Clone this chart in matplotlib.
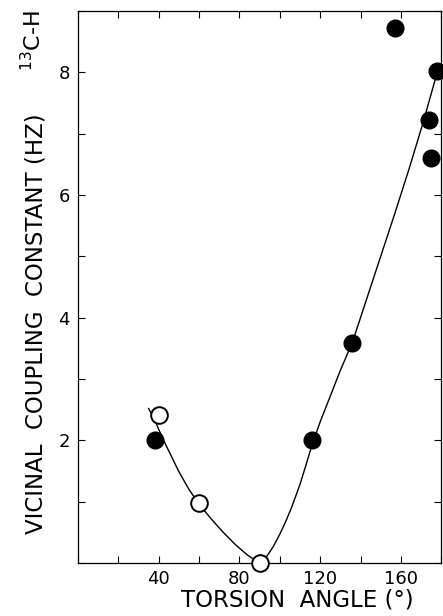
import matplotlib
matplotlib.use("Agg")
import matplotlib.pyplot as plt
from matplotlib.ticker import MultipleLocator

# values
filled_angle = [38, 116, 136, 157, 178, 174, 175]
filled_j = [2.0, 2.0, 3.58, 8.73, 8.03, 7.23, 6.61]

open_angle = [40, 60, 90]
open_j = [2.42, 0.98, 0.0]

# hand-drawn curve, traced point by point
curve_angle = [35, 38, 42, 46, 50, 55, 60, 66, 72, 78, 84, 88, 90, 93, 97, 100,
               103, 106, 110, 113, 116, 120, 125, 130, 136, 143, 150, 157, 164, 171, 178]
curve_j = [2.52, 2.33, 2.03, 1.76, 1.49, 1.20, 0.96, 0.72, 0.50, 0.30, 0.13, 0.04,
           0.0, 0.08, 0.28, 0.47, 0.68, 0.92, 1.28, 1.60, 1.93, 2.30, 2.72, 3.14,
           3.60, 4.30, 5.00, 5.70, 6.42, 7.18, 8.00]

x_major = [40, 80, 120, 160]
y_major = [2, 4, 6, 8]

fig = plt.figure(figsize=(4.43, 6.16), dpi=100)
ax = fig.add_axes([0.176, 0.086, 0.820, 0.896])

ax.plot(curve_angle, curve_j, color="black", lw=1.0, clip_on=False, zorder=2)
ax.plot(filled_angle, filled_j, "o", ms=12, mfc="black", mec="black",
        clip_on=False, zorder=3)
ax.plot(open_angle, open_j, "o", ms=12, mfc="white", mec="black", mew=1.4,
        clip_on=False, zorder=3)

ax.set_xlim(0, 180)
ax.set_ylim(0, 9)
ax.set_xticks(x_major)
ax.set_yticks(y_major)
ax.xaxis.set_minor_locator(MultipleLocator(20))
ax.yaxis.set_minor_locator(MultipleLocator(1))
ax.tick_params(which="both", direction="in", top=True, right=True,
               width=0.8, length=5, labelsize=13)
ax.tick_params(axis="y", pad=6)
ax.tick_params(axis="x", pad=5)
for s in ax.spines.values():
    s.set_linewidth(0.9)

ax.text(0.605, -0.067, "TORSION  ANGLE (°)", transform=ax.transAxes,
        ha="center", va="center", fontsize=16.5)
ax.text(-0.1155, 0.433, "VICINAL  COUPLING  CONSTANT (HZ)", transform=ax.transAxes,
        ha="center", va="center", rotation=90, fontsize=16.5)
ax.text(-0.125, 0.946, "$^{13}$C-H", transform=ax.transAxes,
        ha="center", va="center", rotation=90, fontsize=16)

fig.savefig("out.png", dpi=100, facecolor="white")
